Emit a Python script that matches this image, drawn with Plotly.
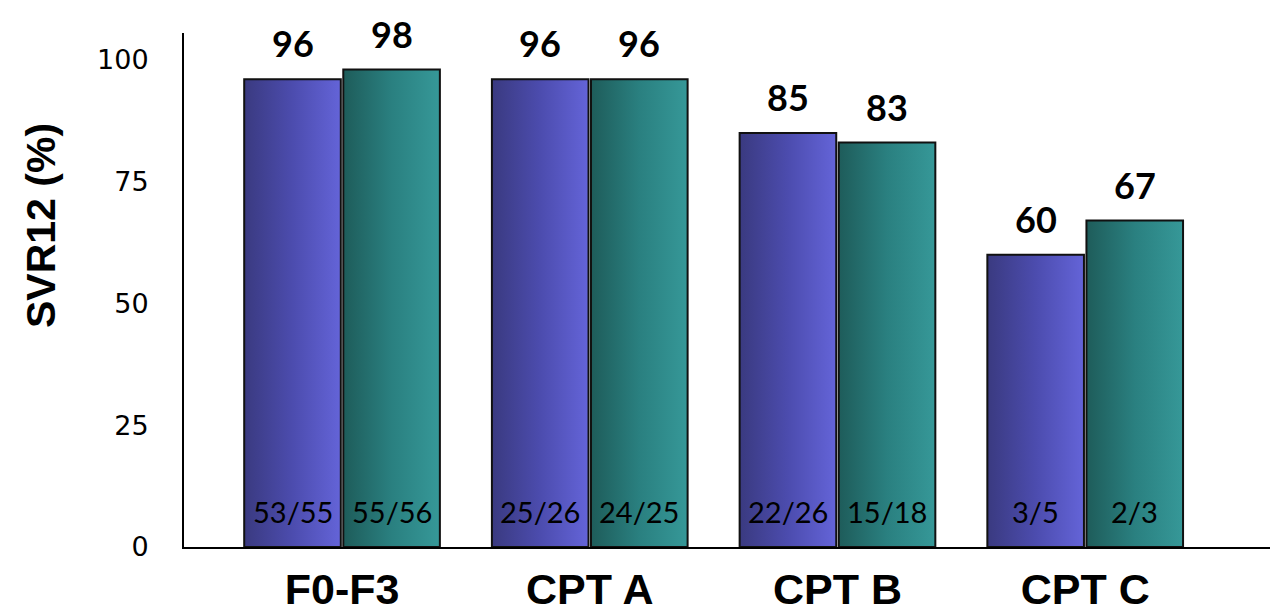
import plotly.graph_objects as go

# Patient groups and SVR12 outcomes for the two regimens
categories = ["F0-F3", "CPT A", "CPT B", "CPT C"]
svr_regimen_1 = [96, 96, 85, 60]
svr_regimen_2 = [98, 96, 83, 67]
counts_regimen_1 = ["53/55", "25/26", "22/26", "3/5"]
counts_regimen_2 = ["55/56", "24/25", "15/18", "2/3"]
y_ticks = [0, 25, 50, 75, 100]

BAR_W = 0.39
OFFSET = 0.2
series = [
    (svr_regimen_1, counts_regimen_1, -OFFSET, ["#3a3a80", "#4c4cae", "#6464d8"]),
    (svr_regimen_2, counts_regimen_2, OFFSET, ["#1e5c5a", "#2a8080", "#369898"]),
]

fig = go.Figure()
annotations = []

for values, counts, off, colors in series:
    for i, v in enumerate(values):
        x0 = i + off - BAR_W / 2
        x1 = i + off + BAR_W / 2
        fig.add_trace(go.Scatter(
            x=[x0, x0, x1, x1, x0],
            y=[0, v, v, 0, 0],
            mode="lines",
            fill="toself",
            fillgradient=dict(
                type="horizontal",
                colorscale=[[0, colors[0]], [0.5, colors[1]], [1, colors[2]]],
                start=x0, stop=x1,
            ),
            line=dict(color="#111111", width=2),
            hoverinfo="skip",
            showlegend=False,
        ))
        # value above the bar
        annotations.append(dict(
            x=i + off, y=v, xref="x", yref="y",
            text=f"<b>{v}</b>", showarrow=False,
            yanchor="bottom", yshift=12,
            font=dict(family="Lato", size=36, color="#000000"),
        ))
        # responders / treated inside the bar base
        annotations.append(dict(
            x=i + off, y=0, xref="x", yref="y",
            text=counts[i], showarrow=False,
            yanchor="middle", yshift=36,
            font=dict(family="Lato", size=29, color="#000000"),
        ))

# y-axis title
annotations.append(dict(
    x=(41 - 184) / 1086, y=(547 - 226) / 514,
    xref="paper", yref="paper", showarrow=False,
    xanchor="center", yanchor="middle",
    text="<b>SVR12 (%)</b>", textangle=-90,
    font=dict(family="Liberation Sans", size=41, color="#000000"),
))

fig.update_layout(
    width=1270, height=614,
    margin=dict(l=184, r=0, t=33, b=67),
    paper_bgcolor="white", plot_bgcolor="white",
    annotations=annotations,
    xaxis=dict(
        range=[-0.638, 3.746],
        tickvals=list(range(len(categories))),
        ticktext=[f"<b>{c}</b>" for c in categories],
        tickfont=dict(family="Liberation Sans", size=43, color="#000000"),
        showgrid=False, zeroline=False,
        showline=True, linecolor="#000000", linewidth=2,
        ticks="", ticklabelstandoff=3, automargin=False,
    ),
    yaxis=dict(
        range=[0, 105.5],
        tickvals=y_ticks,
        tickfont=dict(family="DejaVu Sans", size=27, color="#000000"),
        showgrid=False, zeroline=False,
        showline=True, linecolor="#000000", linewidth=2,
        ticks="", ticklabelstandoff=28, automargin=False,
    ),
)

fig.write_html("out.html")
